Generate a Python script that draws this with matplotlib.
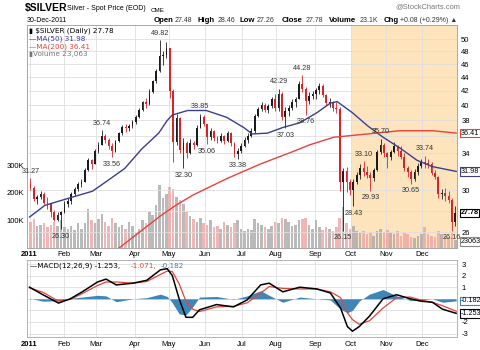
import matplotlib
matplotlib.use("Agg")
import matplotlib.pyplot as plt
import numpy as np
from matplotlib.ticker import FuncFormatter, NullLocator

# two-trading-day bars of $SILVER in 2011 (high, low, close, volume in K)
bar_high = [
    31.27, 30.40, 29.50, 29.90, 29.80, 29.30, 28.50, 28.10, 27.90, 28.00,          # Jan
    28.90, 29.20, 29.80, 30.30, 30.80, 31.20, 32.40, 33.50, 33.40, 34.50,          # Feb
    35.30, 36.74, 36.30, 35.80, 35.20, 35.60, 36.60, 37.40, 37.60, 37.60, 38.00,   # Mar
    38.70, 39.60, 40.60, 41.00, 42.20, 43.60, 45.20, 49.82, 48.00, 49.50,          # Apr
    48.60, 42.20, 38.80, 38.50, 35.80, 35.40, 35.70, 35.50, 37.40, 38.85, 38.70,   # May
    37.50, 37.00, 36.80, 36.00, 36.40, 36.20, 36.70, 36.50, 35.30, 34.60, 35.20,   # Jun
    35.90, 36.40, 37.00, 38.80, 39.80, 40.50, 40.30, 40.20, 41.20, 41.60,          # Jul
    42.29, 41.80, 39.80, 40.00, 40.80, 41.20, 43.40, 44.28, 42.50, 41.80, 42.00,   # Aug
    42.40, 43.20, 43.00, 41.60, 41.00, 40.60, 40.50, 39.80, 32.40, 32.50, 31.20,   # Sep
    31.20, 31.90, 32.80, 33.10, 32.60, 31.90, 32.30, 34.40, 35.70, 35.20,          # Oct
    34.20, 34.40, 35.30, 35.00, 34.80, 34.00, 32.60, 32.10, 32.20, 32.90, 33.30,   # Nov
    33.74, 33.40, 33.00, 32.10, 31.50, 30.10, 30.20, 29.90, 29.20, 28.46,          # Dec
]
bar_low = [
    30.00, 28.90, 28.60, 29.10, 28.60, 28.20, 27.40, 27.00, 27.00, 26.30,
    27.80, 28.30, 28.60, 29.40, 29.90, 30.30, 30.80, 32.00, 32.20, 32.80,
    34.00, 35.00, 35.20, 34.50, 33.56, 34.20, 35.30, 36.20, 36.60, 36.70, 37.10,
    37.60, 38.30, 39.20, 39.60, 40.10, 41.70, 43.20, 44.70, 45.80, 47.00,
    41.00, 33.00, 35.00, 34.00, 32.30, 33.50, 33.90, 34.50, 34.90, 37.00, 37.30,
    35.06, 35.60, 35.50, 35.20, 35.30, 35.10, 35.30, 34.90, 33.60, 33.38, 34.00,
    34.70, 35.20, 35.90, 36.40, 38.40, 39.20, 39.10, 39.00, 39.70, 39.30,
    39.20, 38.00, 37.03, 38.60, 39.40, 39.80, 40.80, 41.90, 38.76, 40.20, 40.80,
    40.90, 41.60, 41.10, 40.00, 39.80, 39.30, 39.00, 29.90, 26.15, 29.80, 29.50,
    28.43, 30.60, 31.20, 31.50, 31.30, 29.93, 31.00, 32.00, 33.90, 33.60,
    32.40, 33.20, 34.00, 33.70, 33.30, 32.00, 31.40, 30.65, 31.00, 31.60, 32.30,
    32.40, 32.30, 31.60, 31.20, 29.20, 29.10, 28.90, 28.70, 26.16, 26.60,
]
bar_close = [
    30.20, 29.10, 29.30, 29.60, 28.70, 28.60, 27.90, 27.10, 27.60, 27.90,
    28.60, 28.90, 29.60, 30.10, 30.60, 30.90, 32.10, 33.20, 32.80, 34.30,
    35.00, 36.00, 35.60, 34.80, 34.30, 35.40, 36.40, 37.20, 37.00, 37.30, 37.80,
    38.50, 39.40, 40.40, 40.20, 41.90, 43.40, 44.90, 47.20, 47.40, 48.60,
    42.00, 35.30, 38.30, 34.40, 35.20, 34.00, 35.20, 35.00, 37.10, 38.40, 37.60,
    35.90, 36.70, 35.80, 35.50, 36.10, 35.40, 36.40, 35.20, 33.90, 34.30, 34.90,
    35.60, 36.10, 36.70, 38.60, 39.50, 40.00, 39.40, 39.90, 40.90, 39.70,
    41.50, 38.40, 39.30, 39.60, 40.50, 40.90, 43.00, 42.30, 40.60, 41.30, 41.60,
    42.10, 42.70, 41.40, 40.30, 40.40, 39.60, 39.50, 30.90, 32.00, 30.90, 30.00,
    30.90, 31.60, 32.40, 31.90, 31.60, 31.30, 32.10, 34.20, 35.00, 34.00,
    33.60, 34.10, 34.80, 34.30, 33.60, 32.30, 31.90, 31.20, 31.90, 32.60, 33.00,
    32.90, 32.80, 31.80, 31.40, 29.60, 29.70, 29.40, 29.00, 26.90, 27.78,
]
bar_volume = [
    95, 105, 80, 85, 90, 75, 85, 95, 80, 100,
    75, 70, 80, 65, 90, 70, 90, 140, 100, 90,
    105, 125, 95, 80, 110, 90, 75, 85, 70, 95, 80,
    55, 70, 100, 90, 130, 120, 155, 230, 180, 195,
    220, 215, 185, 175, 160, 130, 115, 105, 95, 110, 90,
    85, 100, 75, 80, 70, 95, 85, 75, 90, 100, 70,
    60, 70, 65, 105, 90, 85, 75, 70, 80, 95,
    90, 110, 105, 95, 80, 85, 100, 105, 110, 85, 70,
    100, 75, 65, 75, 70, 60, 75, 110, 150, 90, 70,
    80, 60, 55, 60, 50, 55, 45, 60, 70, 55,
    65, 55, 50, 60, 45, 55, 50, 40, 35, 45, 50,
    75, 50, 45, 40, 60, 50, 45, 40, 55, 30,
]
first_open = 30.63
last_volume = 23063

# moving averages, read at trading-day indices
ma50_idx = [0, 9, 17, 27, 37, 46, 56, 66, 76, 81, 84, 93, 104, 116, 126, 131, 140,
            149, 159, 169, 177, 181, 190, 199, 208, 218, 228, 237, 251]
ma50_val = [27.4, 28.5, 28.9, 29.4, 29.9, 31.0, 32.3, 34.5, 36.4, 38.0, 38.7, 39.3, 39.3,
            38.4, 37.1, 36.3, 36.4, 37.1, 37.7, 39.0, 40.3, 40.5, 39.0, 37.3, 35.9, 34.6,
            33.2, 32.5, 31.98]
ma200_idx = [52, 77, 86, 96, 116, 136, 155, 165, 179, 199, 218, 237, 251]
ma200_val = [24.6, 27.5, 28.5, 29.5, 31.2, 32.8, 34.2, 35.0, 35.9, 36.3, 36.7, 36.7, 36.41]

# MACD(12,26,9)
macd_idx = [0, 8, 17, 24, 31, 40, 45, 51, 61, 69, 77, 81, 84, 88, 92, 96, 100, 110, 120,
            128, 136, 141, 149, 159, 169, 177, 183, 187, 190, 194, 200, 208, 216, 224,
            230, 237, 243, 251]
macd_val = [1.0, 0.34, -0.37, 0.0, 0.6, 1.45, 1.7, 1.2, 1.35, 1.6, 2.5, 2.6, 2.0, 0.0,
            -1.6, -1.6, -0.95, -0.5, -0.7, -0.1, 1.2, 1.35, 0.6, 1.0, 0.85, 0.5, -0.8,
            -2.4, -2.8, -2.4, -1.5, 0.0, 0.35, 0.0, -0.2, -0.3, -0.9, -1.253]
signal_val = [0.95, 0.55, -0.2, -0.05, 0.45, 1.15, 1.45, 1.45, 1.35, 1.5, 2.1, 2.4, 2.35,
              1.3, -0.2, -0.9, -1.1, -0.7, -0.65, -0.35, 0.5, 1.05, 0.9, 0.85, 0.85, 0.6,
              0.1, -1.2, -1.8, -2.2, -1.9, -0.8, 0.1, 0.15, -0.1, -0.3, -0.6, -1.071]

month_start = [0, 20, 39, 62, 82, 103, 125, 145, 168, 189, 210, 231]
month_labels = ["2011", "Feb", "Mar", "Apr", "May", "Jun", "Jul", "Aug", "Sep", "Oct",
                "Nov", "Dec"]
price_ticks = [26, 28, 30, 32, 34, 36, 38, 40, 42, 44, 46, 48, 50]
price_tick_labels = ["26", "", "30", "", "34", "", "38", "40", "42", "44", "46", "48", "50"]
macd_ticks = [-3, -2, -1, 0, 1, 2, 3]
macd_tick_labels = ["-3", "-2", "", "", "1", "2", "3"]

# (bar, which end) of the labelled swing points
price_notes = [(0, "high"), (9, "low"), (21, "high"), (24, "low"), (38, "high"),
               (45, "low"), (50, "high"), (52, "low"), (61, "low"), (73, "high"),
               (75, "low"), (80, "high"), (81, "low"), (92, "low"), (95, "low"),
               (98, "high"), (100, "low"), (103, "high"), (112, "low"), (116, "high"),
               (124, "low")]

W, H = 480, 350
SANS = ["Liberation Sans", "DejaVu Sans"]
UP, DOWN = "#1c1c1c", "#d8232a"
MA50_C, MA200_C = "#3b3d92", "#e6433c"
GRID = "#dedede"
SHADE = "#fde4bd"


def rect(x0, y0, x1, y1):
    return [x0 / W, 1 - y1 / H, (x1 - x0) / W, (y1 - y0) / H]


def put(x, y, s, size, weight="normal", color="black", family=SANS, ha="left"):
    fig.text(x / W, 1 - y / H, s, fontsize=size, fontweight=weight, color=color,
             family=family, ha=ha, va="center")


def edge_box(axis, value, text, color, bold=False, fs=5.2):
    axis.annotate(text, xy=(1.0, value), xycoords=("axes fraction", "data"),
                  xytext=(2.5, 0), textcoords="offset points", ha="left", va="center",
                  fontsize=fs, family=SANS, fontweight="bold" if bold else "normal",
                  color="black", annotation_clip=False, zorder=10,
                  bbox=dict(boxstyle="square,pad=0.12", fc="white", ec=color, lw=0.8))


high = np.array(bar_high)
low = np.array(bar_low)
close = np.array(bar_close)
opens = np.concatenate([[first_open], close[:-1]])
pos = np.arange(len(close)) * 2 + 0.5
up = close >= opens
colors = np.where(up, UP, DOWN)

fig = plt.figure(figsize=(W / 100, H / 100), dpi=100)
fig.patch.set_facecolor("white")

axv = fig.add_axes(rect(27, 25, 457, 248))
ax = fig.add_axes(rect(27, 25, 457, 248), sharex=axv)
ax.patch.set_visible(False)
axm = fig.add_axes(rect(27, 260, 457, 337))

# volume layer (bottom)
axv.axvspan(month_start[9], 251.5, color=SHADE, lw=0, zorder=0)
axv.bar(pos, np.array(bar_volume) * 1000, width=1.5,
        color=np.where(up, "#a9a9a9", "#efa3a3"), alpha=0.8, lw=0, zorder=2)
axv.set_ylim(0, 810000)
axv.set_xlim(-1.5, 251.5)
axv.set_xticks(month_start)
axv.set_xticklabels(month_labels)
axv.grid(axis="x", color=GRID, lw=0.6)
axv.set_axisbelow(True)
axv.yaxis.tick_left()
axv.set_yticks([100000, 200000, 300000])
axv.yaxis.set_major_formatter(FuncFormatter(lambda v, _: f"{int(v / 1000)}K"))
axv.tick_params(axis="both", length=0, labelsize=5.5, pad=2)
for lab in axv.get_xticklabels() + axv.get_yticklabels():
    lab.set_family(SANS)
axv.get_xticklabels()[0].set_fontweight("bold")

# price layer (top), log scale like the source
ax.set_yscale("log")
ax.set_ylim(24.67, 52.5)
ax.yaxis.tick_right()
ax.set_yticks(price_ticks)
ax.set_yticklabels(price_tick_labels)
ax.yaxis.set_minor_locator(NullLocator())
ax.tick_params(axis="y", length=0, labelsize=5.5, pad=3)
ax.tick_params(axis="x", length=0, labelbottom=False)
for lab in ax.get_yticklabels():
    lab.set_family(SANS)
ax.grid(axis="y", color=GRID, lw=0.6)

ax.vlines(pos, low, high, colors=colors, lw=0.6, zorder=3)
ax.bar(pos, np.abs(close - opens), bottom=np.minimum(close, opens), width=1.0,
       color=colors, lw=0, zorder=4)
ax.plot(ma50_idx, ma50_val, color=MA50_C, lw=1.0, zorder=5)
ax.plot(ma200_idx, ma200_val, color=MA200_C, lw=1.0, zorder=5)

for k, end in price_notes:
    val = high[k] if end == "high" else low[k]
    dy = 2.5 if end == "high" else -2.5
    ax.annotate(f"{val:.2f}", (pos[k], val), xytext=(0, dy), textcoords="offset points",
                ha="center", va="bottom" if end == "high" else "top", fontsize=5.2,
                family=SANS, color="#333333", zorder=6)

for a in (ax, axv, axm):
    for s in a.spines.values():
        s.set_color("#a8a8a8")
        s.set_linewidth(0.6)

edge_box(ax, ma200_val[-1], f"{ma200_val[-1]:.2f}", MA200_C)
edge_box(ax, ma50_val[-1], f"{ma50_val[-1]:.2f}", MA50_C)
edge_box(ax, close[-1], f"{close[-1]:.2f}", "black", bold=True)
edge_box(axv, last_volume, f"{last_volume}", "#888888")

# legend of the price panel
leg_font = ["DejaVu Sans"]
put(29, 31, "\u25ae $SILVER (Daily) 27.78", 5.2, family=leg_font)
put(29, 39, "\u2014MA(50) 31.98", 5.2, color=MA50_C, family=leg_font)
put(29, 47, "\u2014MA(200) 36.41", 5.2, color=MA200_C, family=leg_font)
put(29, 54, "\u25aeVolume 23,063", 5.2, color="#777777", family=leg_font)

# MACD panel
macd = np.array(macd_val)
signal = np.array(signal_val)
hist = macd - signal
axm.fill_between(macd_idx, hist, 0, color="#3f86b8", lw=0, zorder=2)
axm.plot(macd_idx, signal, color="#e6433c", lw=0.9, zorder=3)
axm.plot(macd_idx, macd, color="black", lw=1.1, zorder=4)
axm.set_xlim(-1.5, 251.5)
axm.set_ylim(-3.3, 3.35)
axm.set_xticks(month_start)
axm.set_xticklabels(month_labels)
axm.yaxis.tick_right()
axm.set_yticks(macd_ticks)
axm.set_yticklabels(macd_tick_labels)
axm.grid(color=GRID, lw=0.6)
axm.set_axisbelow(True)
axm.tick_params(axis="both", length=0, labelsize=5.5, pad=3)
for lab in axm.get_xticklabels() + axm.get_yticklabels():
    lab.set_family(SANS)
axm.get_xticklabels()[0].set_fontweight("bold")
edge_box(axm, hist[-1], f"{hist[-1]:.3f}", "#3f86b8")
edge_box(axm, macd[-1], f"{macd[-1]:.3f}", "black")

put(30, 266, "\u2014MACD(12,26,9) -1.253,", 5.2, family=leg_font)
put(131, 266, "-1.071,", 5.2, color="#e6433c", family=leg_font)
put(161, 266, "-0.182", 5.2, color="#3f86b8", family=leg_font)

# header
put(25, 8, "$SILVER", 7.5, weight="bold")
put(67, 9, "Silver - Spot Price (EOD)", 5)
put(151, 10, "CME", 4.5)
put(460, 7, "@StockCharts.com", 5.4, color="#777777", ha="right")
put(27, 20, "30-Dec-2011", 5)
row = [(154, "Open", True), (175, "27.48", False), (198, "High", True), (218, "28.46", False),
       (240, "Low", True), (257, "27.26", False), (282, "Close", True), (306, "27.78", False),
       (329, "Volume", True), (360, "23.1K", False), (384, "Chg", True),
       (400, "+0.08 (+0.29%) \u25b2", False)]
for x, s, bold in row:
    put(x, 20, s, 5.6 if bold else 5, weight="bold" if bold else "normal",
        color="black" if bold else "#333333")

fig.savefig("out.png", dpi=100)
